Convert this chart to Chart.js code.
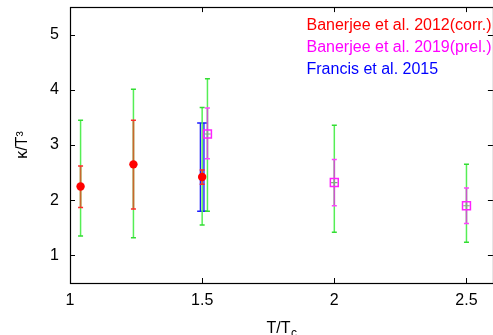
<!DOCTYPE html>
<html>
<head>
<meta charset="utf-8">
<script src="https://cdn.jsdelivr.net/npm/chart.js@4/dist/chart.umd.min.js"></script>
<style>
html,body{margin:0;padding:0;background:#fff;overflow:hidden;width:493px;height:335px;}
canvas{display:block;}
</style>
</head>
<body>
<canvas id="c" width="500" height="335" style="width:500px;height:335px"></canvas>
<script>
// ---- data ----
const xTickValues = [1, 1.5, 2, 2.5];
const yTickValues = [1, 2, 3, 4, 5];

// Banerjee et al. 2012 (corr.)
const b12T     = [1.04, 1.24, 1.50];
const b12K     = [2.25, 2.65, 2.42];
const b12Lo    = [1.87, 1.84, 2.29];
const b12Hi    = [2.62, 3.45, 2.55];
const b12SysLo = [1.35, 1.32, 1.55];
const b12SysHi = [3.45, 4.01, 3.68];

// Banerjee et al. 2019 (prel.)
const b19T     = [1.52, 2.00, 2.50];
const b19K     = [3.20, 2.32, 1.90];
const b19Lo    = [2.75, 1.90, 1.58];
const b19Hi    = [3.67, 2.74, 2.22];
const b19SysLo = [1.80, 1.42, 1.24];
const b19SysHi = [4.20, 3.36, 2.65];

// Francis et al. 2015
const frT  = [1.50];
const frK  = [2.60];
const frLo = [1.80];
const frHi = [3.40];

const legendTexts  = ['Banerjee et al. 2012(corr.)', 'Banerjee et al. 2019(prel.)', 'Francis et al. 2015'];
const legendColors = ['#ff0000', '#ff00ff', '#0000ff'];

const FONT = '"Liberation Sans", Arial, sans-serif';

function pts(xs, ys){ return xs.map((x,i)=>({x:x, y:ys[i]})); }

function vbar(ctx, px, pyLo, pyHi, capHalf, color, capColor, lw){
  ctx.save();
  ctx.strokeStyle = color; ctx.lineWidth = lw;
  ctx.beginPath(); ctx.moveTo(px, pyLo); ctx.lineTo(px, pyHi); ctx.stroke();
  ctx.strokeStyle = capColor; ctx.lineWidth = 1.5;
  ctx.beginPath();
  ctx.moveTo(px-capHalf, pyLo); ctx.lineTo(px+capHalf, pyLo);
  ctx.moveTo(px-capHalf, pyHi); ctx.lineTo(px+capHalf, pyHi);
  ctx.stroke();
  ctx.restore();
}

const errorBarPlugin = {
  id: 'errbars',
  beforeDatasetsDraw(chart){
    const ctx = chart.ctx, xs = chart.scales.x, ys = chart.scales.y;
    const a = chart.chartArea;
    // frame
    ctx.save();
    ctx.strokeStyle = '#000'; ctx.lineWidth = 1.2;
    ctx.strokeRect(Math.round(a.left)+0.5, Math.round(a.top)+0.5, Math.round(a.right-a.left), Math.round(a.bottom-a.top));
    // inward ticks
    ctx.lineWidth = 1;
    ctx.beginPath();
    xTickValues.forEach(v=>{
      const px = Math.round(xs.getPixelForValue(v))+0.5;
      ctx.moveTo(px, a.bottom); ctx.lineTo(px, a.bottom-5);
      ctx.moveTo(px, a.top); ctx.lineTo(px, a.top+5);
    });
    yTickValues.forEach(v=>{
      const py = Math.round(ys.getPixelForValue(v))+0.5;
      ctx.moveTo(a.left, py); ctx.lineTo(a.left+5, py);
      ctx.moveTo(a.right, py); ctx.lineTo(a.right-5, py);
    });
    ctx.stroke();
    ctx.restore();

    // Francis (blue, double line)
    frT.forEach((t,i)=>{
      const px = xs.getPixelForValue(t);
      const lo = ys.getPixelForValue(frLo[i]), hi = ys.getPixelForValue(frHi[i]);
      ctx.save();
      ctx.strokeStyle = '#1a1aff'; ctx.lineWidth = 1.3;
      ctx.beginPath();
      ctx.moveTo(px-1.8, lo); ctx.lineTo(px-1.8, hi);
      ctx.moveTo(px+1.8, lo); ctx.lineTo(px+1.8, hi);
      ctx.moveTo(px-5, lo); ctx.lineTo(px+5, lo);
      ctx.moveTo(px-5, hi); ctx.lineTo(px+5, hi);
      ctx.stroke();
      ctx.restore();
    });
    // green systematic bars
    b12T.forEach((t,i)=>{
      vbar(ctx, xs.getPixelForValue(t), ys.getPixelForValue(b12SysLo[i]), ys.getPixelForValue(b12SysHi[i]), 2.5, '#55ee55', '#33dd33', 1.5);
    });
    b19T.forEach((t,i)=>{
      vbar(ctx, xs.getPixelForValue(t), ys.getPixelForValue(b19SysLo[i]), ys.getPixelForValue(b19SysHi[i]), 2.5, '#55ee55', '#33dd33', 1.5);
    });
    // statistical bars
    b12T.forEach((t,i)=>{
      vbar(ctx, xs.getPixelForValue(t), ys.getPixelForValue(b12Lo[i]), ys.getPixelForValue(b12Hi[i]), 2.5, '#c8662e', '#ff2a2a', 1.8);
    });
    b19T.forEach((t,i)=>{
      vbar(ctx, xs.getPixelForValue(t), ys.getPixelForValue(b19Lo[i]), ys.getPixelForValue(b19Hi[i]), 2.5, '#cc55cc', '#ff44ff', 1.6);
    });
  },
  afterDraw(chart){
    const ctx = chart.ctx, a = chart.chartArea;
    ctx.save();
    // legend
    ctx.font = '16px ' + FONT;
    ctx.textAlign = 'left'; ctx.textBaseline = 'alphabetic';
    legendTexts.forEach((t,i)=>{
      ctx.fillStyle = legendColors[i];
      ctx.fillText(t, 306.5, 29.8 + i*22);
    });
    // y title (rotated)
    ctx.fillStyle = '#000';
    ctx.save();
    ctx.translate(27, (a.top + a.bottom)/2);
    ctx.rotate(-Math.PI/2);
    ctx.textAlign = 'center';
    ctx.font = '16px ' + FONT;
    ctx.fillText('\u03BA/T\u00B3', 0, 0);
    ctx.restore();
    // x title with subscript
    ctx.font = '16px ' + FONT;
    const main = 'T/T';
    const wMain = ctx.measureText(main).width;
    ctx.font = '12px ' + FONT;
    const wSub = ctx.measureText('c').width;
    const cx = (a.left + a.right)/2;
    const x0 = cx - (wMain + wSub)/2;
    ctx.font = '16px ' + FONT;
    ctx.textAlign = 'left';
    ctx.fillText(main, x0, 333);
    ctx.font = '12px ' + FONT;
    ctx.fillText('c', x0 + wMain + 0.5, 337);
    ctx.restore();
  }
};

function zeroPad(s){ s.paddingTop = 0; s.paddingBottom = 0; s.paddingLeft = 0; s.paddingRight = 0; }

new Chart(document.getElementById('c'), {
  type: 'scatter',
  data: {
    datasets: [
      { label: 'crossg', data: pts(b19T, b19K), pointStyle: 'cross', pointRadius: 3.2, borderColor: '#7fae7f', borderWidth: 1.2, showLine: false },
      { label: legendTexts[2], data: pts(frT, frK), pointRadius: 0, borderColor: '#0000ff', showLine: false },
      { label: legendTexts[0], data: pts(b12T, b12K), pointStyle: 'circle', pointRadius: 4.2, backgroundColor: '#ff0000', borderColor: '#ff0000', borderWidth: 0, showLine: false },
      { label: legendTexts[1], data: pts(b19T, b19K), pointStyle: 'rect', pointRadius: 5.6, backgroundColor: 'rgba(0,0,0,0)', borderColor: '#ff22ff', borderWidth: 1.5, showLine: false }
    ]
  },
  options: {
    responsive: false,
    animation: false,
    devicePixelRatio: 1,
    layout: { padding: { top: 7, right: 6, left: 0, bottom: 0 } },
    plugins: { legend: { display: false }, tooltip: { enabled: false } },
    scales: {
      x: {
        type: 'linear', min: 1, max: 2.6,
        grid: { display: false, drawTicks: false },
        border: { display: false },
        ticks: { color: '#000', font: { size: 16, family: FONT }, padding: 8, maxRotation: 0,
                 callback: v => String(v) },
        afterBuildTicks: s => { s.ticks = xTickValues.map(v => ({ value: v })); },
        afterFit: s => { s.height = 52; zeroPad(s); }
      },
      y: {
        type: 'linear', min: 0.5, max: 5.5,
        grid: { display: false, drawTicks: false },
        border: { display: false },
        ticks: { color: '#000', font: { size: 16, family: FONT }, padding: 11,
                 callback: v => String(v) },
        afterBuildTicks: s => { s.ticks = yTickValues.map(v => ({ value: v })); },
        afterFit: s => { s.width = 70; zeroPad(s); }
      }
    }
  },
  plugins: [errorBarPlugin]
});
</script>
</body>
</html>
